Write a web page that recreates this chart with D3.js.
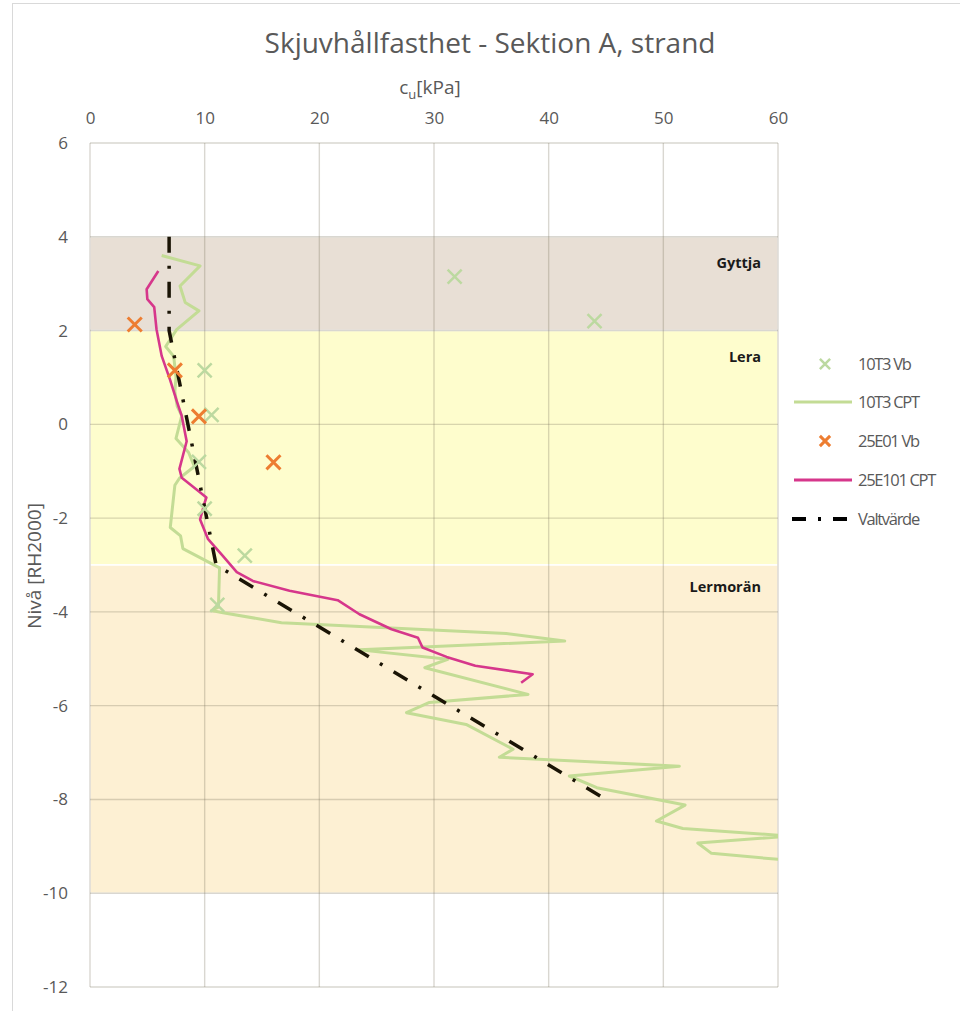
<!DOCTYPE html>
<html>
<head>
<meta charset="utf-8">
<script src="https://cdnjs.cloudflare.com/ajax/libs/d3/7.8.5/d3.min.js"></script>
<style>
  body { margin: 0; background: #fff; }
  text { font-family: "Open Sans", "Noto Sans", sans-serif; fill: #595959; }
</style>
</head>
<body>
<div id="chart"></div>
<script>
// ---- data (cu in kPa, level in m RH2000) ----
var xTicks = [0, 10, 20, 30, 40, 50, 60];
var yTicks = [6, 4, 2, 0, -2, -4, -6, -8, -10, -12];

var layerNames = ["Gyttja", "Lera", "Lermorän"];
var layerTop = [4, 2, -3];
var layerBottom = [2, -3, -10];

var vb10T3 = [[31.8, 3.15], [44, 2.2], [10, 1.15], [10.6, 0.2], [9.5, -0.8],
    [10, -1.8], [13.5, -2.8], [11.1, -3.85]];

var cpt10T3 = [[6.25, 3.6], [9.6, 3.38], [7.85, 2.95], [8.3, 2.6], [9.5, 2.42],
    [7.55, 2.02], [6.6, 1.66], [7.3, 1.45], [7.5, 1.0], [7.4, 0.7], [7.6, 0.39],
    [8.0, 0.18], [7.5, -0.3], [8.6, -0.6], [9.1, -0.9], [7.8, -1.15], [7.4, -1.3],
    [7.0, -2.2], [7.9, -2.38], [8.1, -2.65], [11.3, -3.06], [11.2, -3.9],
    [10.6, -3.97], [11.6, -4.02], [16.7, -4.23], [36.3, -4.46], [41.4, -4.62],
    [23.5, -4.81], [31.2, -5.01], [29.2, -5.19], [38.2, -5.76], [29.6, -5.93],
    [27.6, -6.15], [32.8, -6.4], [36.9, -6.93], [35.7, -7.1], [51.4, -7.29],
    [41.8, -7.5], [44.2, -7.75], [51.9, -8.12], [49.4, -8.46], [51.7, -8.62],
    [61, -8.78], [53, -8.93], [54.2, -9.15], [61, -9.3]];

var vb25E01 = [[3.9, 2.13], [7.4, 1.15], [9.5, 0.17], [16.0, -0.81]];

var cpt25E101 = [[5.96, 3.27], [4.94, 2.88], [5.0, 2.67], [5.6, 2.5], [5.8, 2.03],
    [6.25, 1.46], [6.97, 0.96], [7.56, 0.5], [8.0, 0.18], [8.43, -0.36],
    [7.8, -0.95], [8.0, -1.14], [9.45, -1.42], [10.15, -1.56], [10.0, -1.67],
    [9.6, -2.03], [10.3, -2.45], [11.6, -2.81], [12.8, -3.15], [14.2, -3.34],
    [17.4, -3.55], [21.6, -3.75], [23.5, -4.05], [26.3, -4.37], [28.6, -4.55],
    [29.0, -4.76], [31.1, -4.96], [33.6, -5.15], [38.6, -5.33], [37.6, -5.51]];

var valtvarde = [[6.9, 4], [6.9, 2], [11, -3], [45, -8]];

var legendNames = ["10T3 Vb", "10T3 CPT", "25E01 Vb", "25E101 CPT", "Valtvärde"];

function init() {
    var w = 960;
    var h = 1011;
    var left = 90, right = 778, top = 143, bottom = 987;

    var layerColors = ["#e8dfd5", "#fefdcd", "#fdf0d3"];
    var green = "#c3dc95";
    var greenX = "#bcd9a0";
    var orange = "#ed7d31";
    var magenta = "#d6378b";

    var svg = d3.select("#chart")
        .append("svg")
        .attr("width", w)
        .attr("height", h);

    // outer chart frame
    svg.append("rect")
        .attr("x", 12.5)
        .attr("y", 3.5)
        .attr("width", 960)
        .attr("height", 1020)
        .attr("fill", "#fff")
        .attr("stroke", "#d9d9d9");

    var xScale = d3.scaleLinear().domain([0, 60]).range([left, right]);
    var yScale = d3.scaleLinear().domain([6, -12]).range([top, bottom]);

    svg.append("clipPath")
        .attr("id", "plotClip")
        .append("rect")
        .attr("x", left)
        .attr("y", top)
        .attr("width", right - left)
        .attr("height", bottom - top);

    // soil layers
    svg.selectAll(".layer")
        .data(layerNames)
        .enter()
        .append("rect")
        .attr("class", "layer")
        .attr("x", xScale(0))
        .attr("width", xScale(60) - xScale(0))
        .attr("y", function (d, i) { return yScale(layerTop[i]); })
        .attr("height", function (d, i) { return yScale(layerBottom[i]) - yScale(layerTop[i]); })
        .attr("fill", function (d, i) { return layerColors[i]; })
        .attr("stroke", "#fff")
        .attr("stroke-width", 1.5);

    // gridlines
    xTicks.forEach(function (v) {
        svg.append("line")
            .attr("x1", xScale(v)).attr("x2", xScale(v))
            .attr("y1", top).attr("y2", bottom)
            .attr("stroke", "rgba(120,110,90,0.28)")
            .attr("stroke-width", 1.4);
    });
    yTicks.forEach(function (v) {
        svg.append("line")
            .attr("x1", left).attr("x2", right)
            .attr("y1", yScale(v)).attr("y2", yScale(v))
            .attr("stroke", "rgba(120,110,90,0.28)")
            .attr("stroke-width", 1.4);
    });

    // layer labels
    svg.selectAll(".layerLabel")
        .data(layerNames)
        .enter()
        .append("text")
        .attr("class", "layerLabel")
        .attr("x", 761)
        .attr("y", function (d, i) { return yScale(layerTop[i]) + (i == 2 ? 27 : 31); })
        .attr("text-anchor", "end")
        .style("font-size", "14.5px")
        .style("font-weight", "bold")
        .style("fill", "#1a1a1a")
        .text(function (d) { return d; });

    // axes
    var xAxis = d3.axisTop(xScale).tickValues(xTicks).tickSize(0).tickPadding(0);
    var gx = svg.append("g")
        .attr("transform", "translate(0," + 124 + ")")
        .call(xAxis);
    gx.select(".domain").remove();
    gx.selectAll("text")
        .style("font-size", "17px")
        .style("fill", "#595959")
        .style("font-family", "Open Sans, sans-serif");

    var yAxis = d3.axisLeft(yScale).tickValues(yTicks).tickSize(0).tickPadding(22)
        .tickFormat(function (d) { return d < 0 ? "-" + Math.abs(d) : d; });
    var gy = svg.append("g")
        .attr("transform", "translate(" + left + ",0)")
        .call(yAxis);
    gy.select(".domain").remove();
    gy.selectAll("text")
        .style("font-size", "17px")
        .style("fill", "#595959")
        .style("font-family", "Open Sans, sans-serif");

    // title
    svg.append("text")
        .attr("x", 490)
        .attr("y", 53)
        .attr("text-anchor", "middle")
        .style("font-size", "28px")
        .text("Skjuvhållfasthet - Sektion A, strand");

    // x axis label c_u[kPa]
    var xl = svg.append("text")
        .attr("x", 430)
        .attr("y", 94)
        .attr("text-anchor", "middle")
        .style("font-size", "19px");
    xl.append("tspan").text("c");
    xl.append("tspan").attr("dy", 5).style("font-size", "13px").text("u");
    xl.append("tspan").attr("dy", -5).text("[kPa]");

    // y axis label
    svg.append("text")
        .attr("transform", "translate(41," + 566 + ") rotate(-90)")
        .attr("text-anchor", "middle")
        .style("font-size", "19px")
        .text("Nivå [RH2000]");

    var plot = svg.append("g").attr("clip-path", "url(#plotClip)");

    var line = d3.line()
        .x(function (d) { return xScale(d[0]); })
        .y(function (d) { return yScale(d[1]); });

    plot.append("path")
        .datum(cpt10T3)
        .attr("d", line)
        .attr("fill", "none")
        .attr("stroke", green)
        .attr("stroke-width", 3)
        .attr("stroke-linejoin", "round");

    plot.append("path")
        .datum(cpt25E101)
        .attr("d", line)
        .attr("fill", "none")
        .attr("stroke", magenta)
        .attr("stroke-width", 2.6)
        .attr("stroke-linejoin", "round");

    plot.append("path")
        .datum(valtvarde)
        .attr("d", line)
        .attr("fill", "none")
        .attr("stroke", "#1a1405")
        .attr("stroke-width", 3.5)
        .attr("stroke-dasharray", "16,13,3,13");

    // x-shaped markers
    var cross = d3.symbol().type(d3.symbolX).size(130);

    plot.selectAll(".vb10")
        .data(vb10T3)
        .enter()
        .append("path")
        .attr("class", "vb10")
        .attr("d", cross)
        .attr("transform", function (d) { return "translate(" + xScale(d[0]) + "," + yScale(d[1]) + ")"; })
        .attr("fill", "none")
        .attr("stroke", greenX)
        .attr("stroke-width", 2.5);

    plot.selectAll(".vb25")
        .data(vb25E01)
        .enter()
        .append("path")
        .attr("class", "vb25")
        .attr("d", cross)
        .attr("transform", function (d) { return "translate(" + xScale(d[0]) + "," + yScale(d[1]) + ")"; })
        .attr("fill", "none")
        .attr("stroke", orange)
        .attr("stroke-width", 3);

    // legend
    var legend = svg.append("g").attr("class", "legend");
    var legendY = [364, 402, 441, 480, 519];

    legend.selectAll("text")
        .data(legendNames)
        .enter()
        .append("text")
        .attr("x", 858)
        .attr("y", function (d, i) { return legendY[i] + 6; })
        .style("font-size", "16.5px")
        .style("letter-spacing", "-1.3px")
        .text(function (d) { return d; });

    var smallCross = d3.symbol().type(d3.symbolX).size(70);
    legend.append("path")
        .attr("d", smallCross)
        .attr("transform", "translate(825," + legendY[0] + ")")
        .attr("fill", "none").attr("stroke", greenX).attr("stroke-width", 2.5);
    legend.append("line")
        .attr("x1", 794).attr("x2", 852).attr("y1", legendY[1]).attr("y2", legendY[1])
        .attr("stroke", green).attr("stroke-width", 3);
    legend.append("path")
        .attr("d", smallCross)
        .attr("transform", "translate(825," + legendY[2] + ")")
        .attr("fill", "none").attr("stroke", orange).attr("stroke-width", 3);
    legend.append("line")
        .attr("x1", 794).attr("x2", 852).attr("y1", legendY[3]).attr("y2", legendY[3])
        .attr("stroke", magenta).attr("stroke-width", 3);
    legend.append("line")
        .attr("x1", 792).attr("x2", 856).attr("y1", legendY[4]).attr("y2", legendY[4])
        .attr("stroke", "#000").attr("stroke-width", 4)
        .attr("stroke-dasharray", "14,12,3,12");
}

window.onload = init;
</script>
</body>
</html>
